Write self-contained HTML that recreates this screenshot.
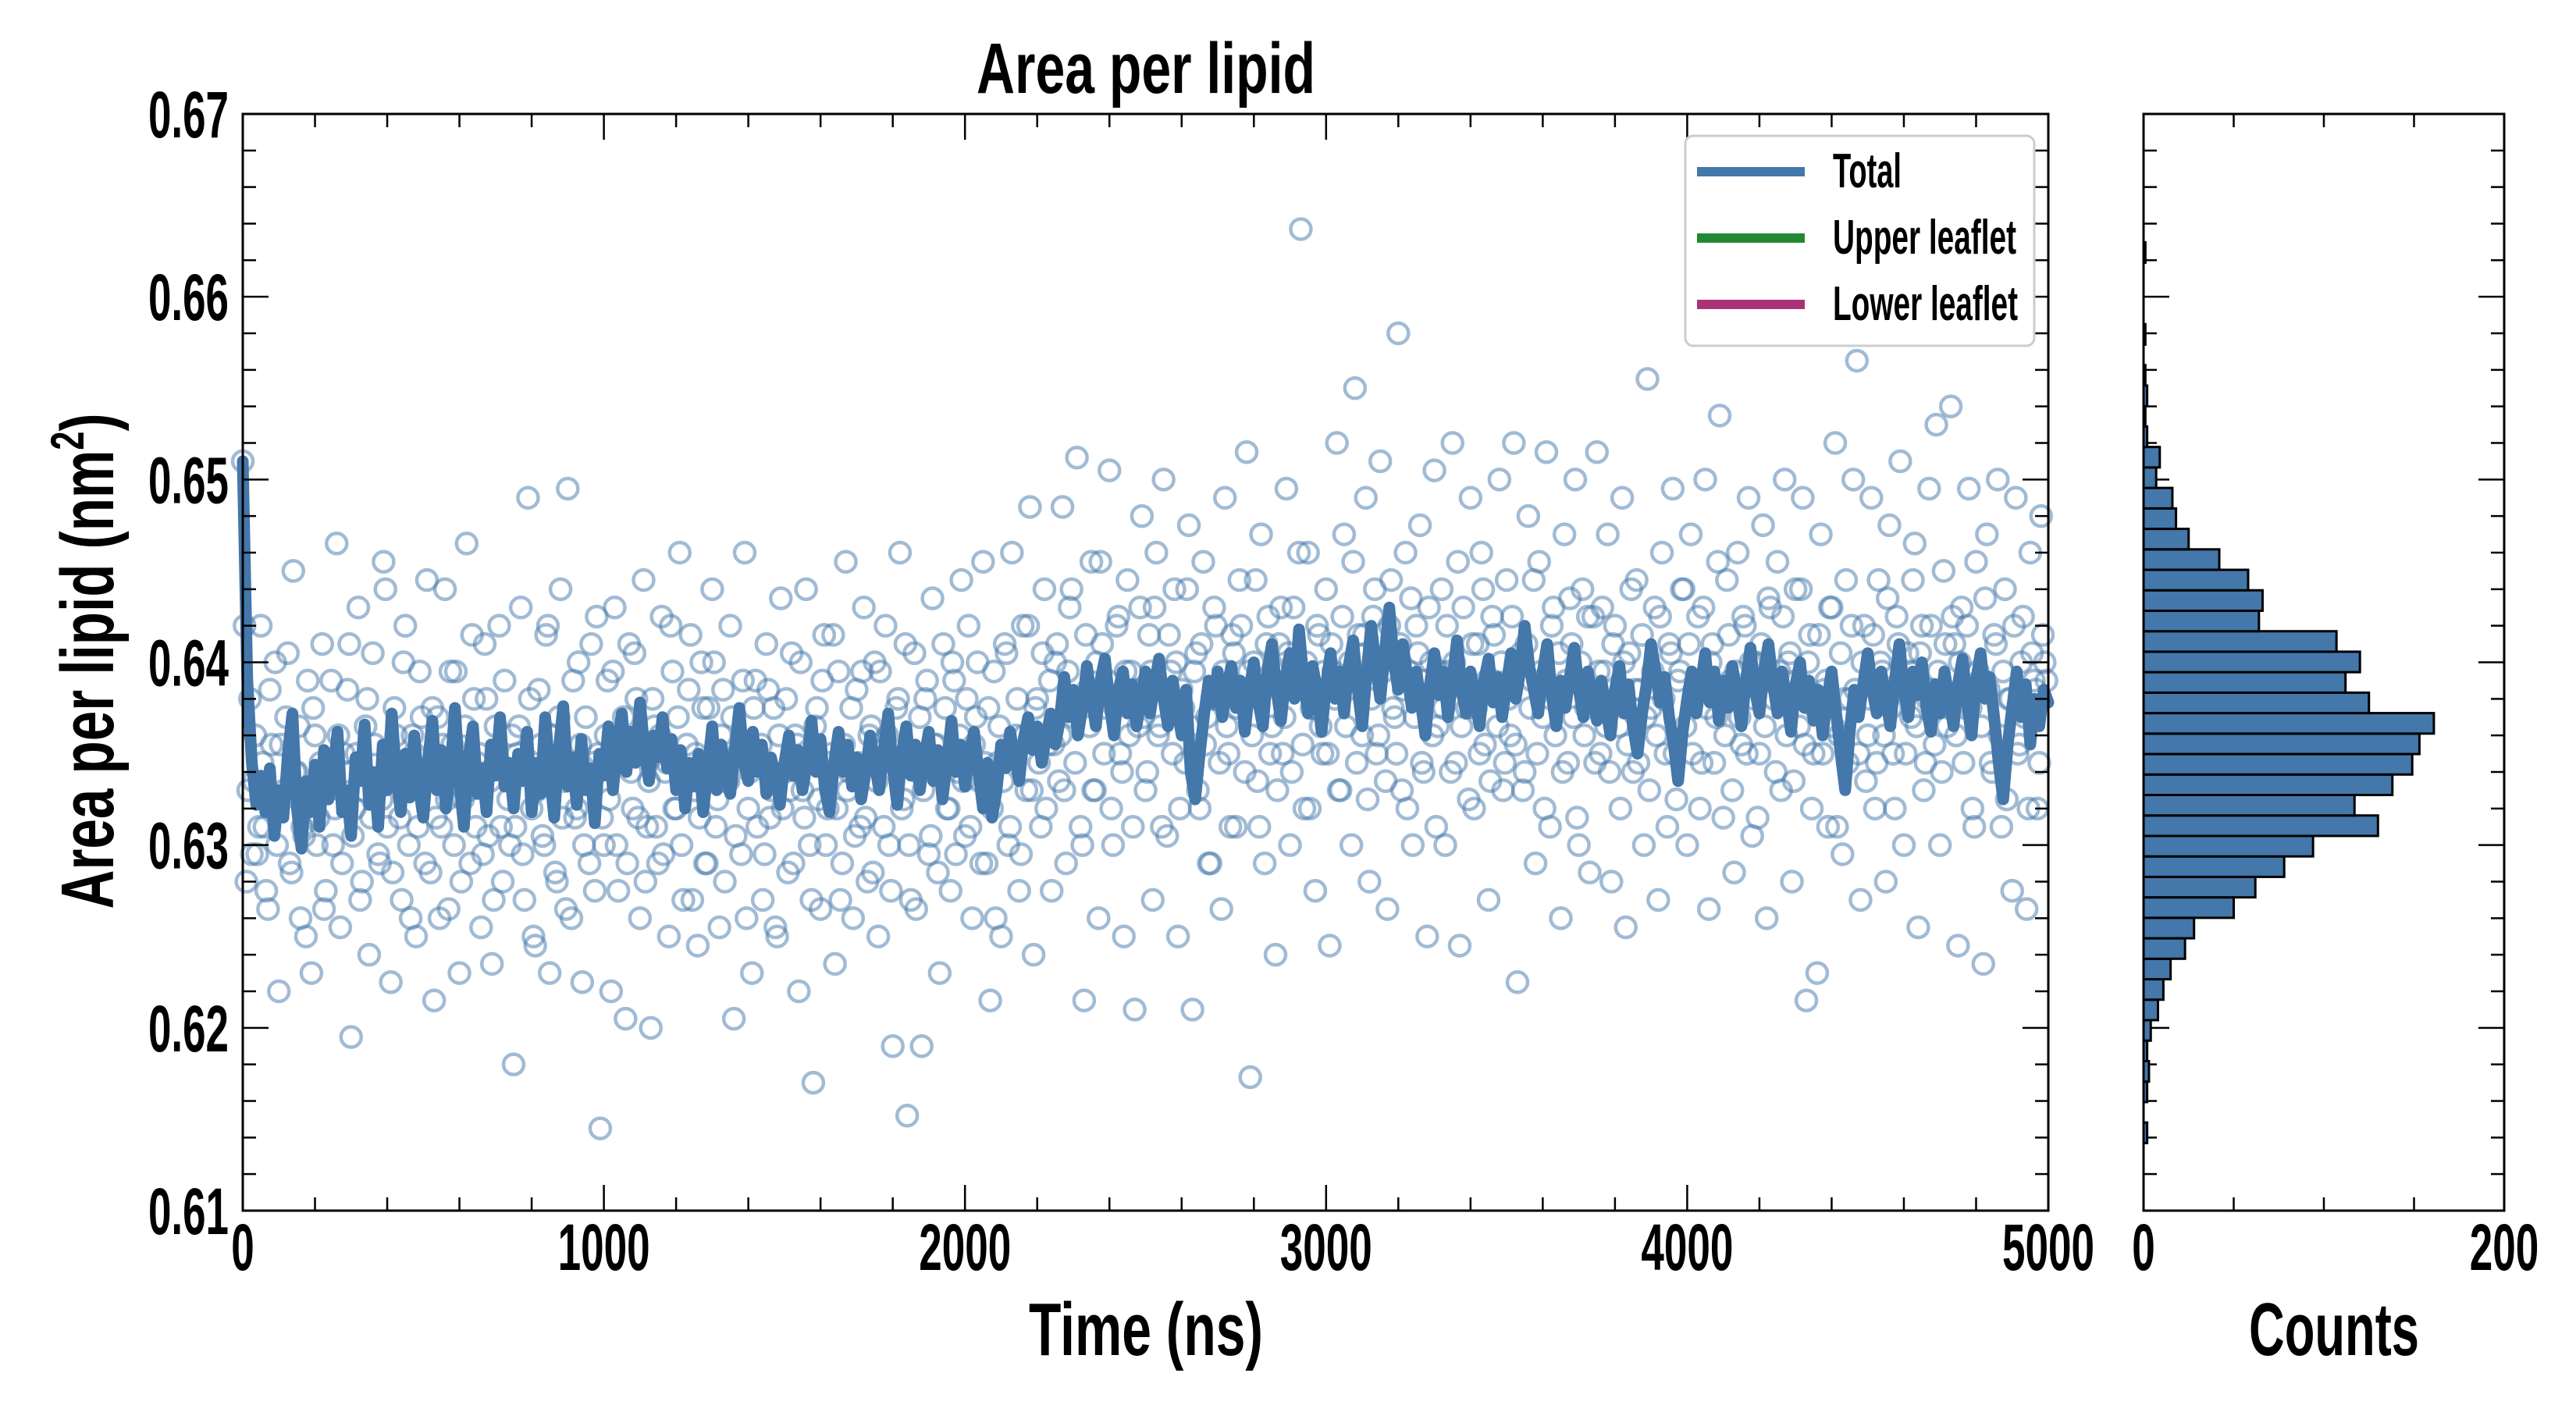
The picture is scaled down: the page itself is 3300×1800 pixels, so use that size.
<!DOCTYPE html>
<html><head><meta charset="utf-8"><style>
html,body{margin:0;padding:0;background:#fff;}
svg{display:block;}
text{font-family:"Liberation Sans",sans-serif;font-weight:bold;fill:#000;}
</style></head><body>
<svg id="chart" xmlns="http://www.w3.org/2000/svg" width="3300" height="1800" viewBox="0 0 3300 1800">
<rect width="3300" height="1800" fill="#fff"/>
<text x="1468" y="119" font-size="92" text-anchor="middle" textLength="434" lengthAdjust="spacingAndGlyphs">Area per lipid</text>
<g id="main"></g>
<g id="hist"></g>
<text x="1468" y="1736" font-size="96" text-anchor="middle" textLength="300" lengthAdjust="spacingAndGlyphs">Time (ns)</text>
<text x="2990" y="1736" font-size="96" text-anchor="middle" textLength="218" lengthAdjust="spacingAndGlyphs">Counts</text>
<text transform="translate(145,847) rotate(-90)" x="0" y="0" font-size="96" text-anchor="middle" textLength="635" lengthAdjust="spacingAndGlyphs">Area per lipid (nm<tspan font-size="60" dy="-38">2</tspan><tspan dy="38">)</tspan></text>
<g>
<rect x="2159" y="174" width="447" height="269" rx="10" fill="#fff" stroke="#ccc" stroke-width="3"/>
<line x1="2174" y1="220" x2="2312" y2="220" stroke="#4477AA" stroke-width="12"/>
<text x="2348" y="240" font-size="62" textLength="88" lengthAdjust="spacingAndGlyphs">Total</text>
<line x1="2174" y1="305" x2="2312" y2="305" stroke="#228833" stroke-width="12"/>
<text x="2348" y="325" font-size="62" textLength="235" lengthAdjust="spacingAndGlyphs">Upper leaflet</text>
<line x1="2174" y1="390" x2="2312" y2="390" stroke="#AA3377" stroke-width="12"/>
<text x="2348" y="410" font-size="62" textLength="237" lengthAdjust="spacingAndGlyphs">Lower leaflet</text>
</g>
</svg>
<script>
const yTicks=[0.61,0.62,0.63,0.64,0.65,0.66,0.67];
const yTickLabels=["0.61","0.62","0.63","0.64","0.65","0.66","0.67"];
const xTicks=[0,1000,2000,3000,4000,5000];
const xTickLabels=["0","1000","2000","3000","4000","5000"];
const histTicks=[0,200];
const histTickLabels=["0","200"];
const lineDt=12.5;
const lineAPL=[
.6510,.6390,.6345,.6322,.6338,.6318,.6342,.6305,.6330,.6315,.6350,.6372,.6320,.6298,.6335,.6318,.6344,.6310,.6352,.6325,
.6340,.6362,.6318,.6330,.6305,.6348,.6335,.6366,.6322,.6340,.6310,.6355,.6330,.6372,.6338,.6318,.6350,.6326,.6360,.6332,
.6315,.6345,.6368,.6330,.6352,.6320,.6340,.6375,.6335,.6310,.6348,.6365,.6328,.6342,.6318,.6355,.6338,.6370,.6332,.6345,
.6320,.6350,.6335,.6362,.6318,.6345,.6328,.6370,.6340,.6315,.6352,.6376,.6332,.6348,.6322,.6358,.6330,.6342,.6312,.6350,
.6338,.6365,.6330,.6355,.6372,.6340,.6362,.6345,.6378,.6352,.6335,.6360,.6348,.6370,.6342,.6358,.6330,.6352,.6320,.6345,
.6332,.6350,.6318,.6342,.6365,.6330,.6355,.6340,.6328,.6352,.6375,.6345,.6335,.6362,.6340,.6355,.6328,.6348,.6338,.6322,
.6345,.6360,.6338,.6352,.6330,.6345,.6368,.6340,.6358,.6330,.6318,.6345,.6362,.6340,.6355,.6332,.6348,.6325,.6340,.6360,
.6345,.6330,.6352,.6372,.6342,.6322,.6350,.6365,.6338,.6355,.6330,.6348,.6362,.6335,.6352,.6325,.6345,.6368,.6340,.6355,
.6332,.6350,.6362,.6340,.6320,.6345,.6315,.6330,.6355,.6342,.6362,.6348,.6335,.6358,.6370,.6352,.6365,.6345,.6360,.6372,
.6355,.6368,.6392,.6370,.6385,.6360,.6375,.6398,.6380,.6365,.6390,.6402,.6378,.6360,.6385,.6395,.6372,.6388,.6365,.6380,
.6395,.6372,.6388,.6402,.6380,.6365,.6390,.6375,.6360,.6385,.6340,.6325,.6350,.6372,.6390,.6378,.6395,.6370,.6385,.6398,
.6375,.6390,.6362,.6385,.6400,.6378,.6365,.6395,.6410,.6385,.6368,.6392,.6405,.6380,.6418,.6390,.6372,.6398,.6385,.6362,
.6388,.6405,.6380,.6395,.6372,.6398,.6412,.6385,.6365,.6395,.6420,.6398,.6380,.6405,.6430,.6400,.6385,.6410,.6392,.6375,
.6395,.6378,.6360,.6388,.6405,.6382,.6395,.6370,.6390,.6412,.6385,.6372,.6395,.6380,.6365,.6390,.6402,.6378,.6392,.6370,
.6388,.6405,.6380,.6395,.6420,.6398,.6385,.6372,.6395,.6410,.6382,.6365,.6390,.6375,.6392,.6408,.6385,.6370,.6395,.6380,
.6368,.6390,.6375,.6360,.6385,.6398,.6372,.6388,.6365,.6350,.6372,.6388,.6410,.6395,.6378,.6392,.6370,.6355,.6335,.6362,
.6380,.6395,.6372,.6388,.6405,.6378,.6395,.6368,.6390,.6375,.6398,.6382,.6365,.6390,.6408,.6385,.6372,.6395,.6410,.6388,
.6372,.6395,.6380,.6362,.6388,.6400,.6375,.6390,.6368,.6385,.6360,.6380,.6395,.6372,.6350,.6330,.6362,.6385,.6370,.6388,
.6405,.6385,.6372,.6395,.6380,.6365,.6390,.6410,.6385,.6370,.6395,.6382,.6400,.6375,.6362,.6388,.6372,.6395,.6380,.6365,
.6388,.6402,.6378,.6360,.6390,.6405,.6380,.6392,.6370,.6345,.6325,.6355,.6375,.6395,.6370,.6388,.6355,.6380,.6365,.6385,
.6378];
const scatterDt=10;
const scatterAPL=[
.6510,.6280,.6380,.6335,.6295,.6420,.6310,.6265,.6355,.6400,.6220,.6325,.6370,.6290,.6450,.6340,.6260,.6305,.6390,.6230,.6360,.6315,.6410,.6275,.6345,
.6300,.6465,.6255,.6350,.6385,.6195,.6320,.6430,.6280,.6365,.6240,.6405,.6330,.6290,.6455,.6310,.6225,.6375,.6345,.6270,.6420,.6300,.6360,.6250,.6395,
.6335,.6445,.6285,.6215,.6370,.6310,.6440,.6265,.6355,.6395,.6230,.6325,.6465,.6290,.6380,.6345,.6255,.6410,.6305,.6235,.6365,.6420,.6280,.6340,.6300,
.6180,.6350,.6430,.6270,.6490,.6320,.6245,.6385,.6305,.6415,.6230,.6360,.6280,.6440,.6335,.6495,.6260,.6315,.6400,.6225,.6370,.6290,.6345,.6425,.6145,
.6300,.6390,.6220,.6430,.6275,.6350,.6205,.6410,.6320,.6380,.6260,.6445,.6310,.6200,.6365,.6290,.6425,.6340,.6250,.6395,.6320,.6460,.6270,.6355,.6415,
.6330,.6245,.6400,.6290,.6375,.6440,.6310,.6255,.6385,.6335,.6420,.6205,.6350,.6295,.6460,.6320,.6230,.6390,.6345,.6270,.6410,.6315,.6375,.6250,.6435,
.6340,.6285,.6405,.6360,.6220,.6330,.6440,.6300,.6170,.6375,.6265,.6415,.6320,.6350,.6235,.6395,.6290,.6455,.6340,.6260,.6385,.6310,.6430,.6280,.6365,
.6400,.6250,.6345,.6420,.6300,.6190,.6375,.6460,.6325,.6152,.6270,.6405,.6340,.6190,.6380,.6295,.6435,.6355,.6230,.6410,.6320,.6275,.6390,.6340,.6445,
.6305,.6420,.6260,.6370,.6335,.6455,.6290,.6215,.6395,.6345,.6250,.6410,.6300,.6460,.6360,.6275,.6420,.6330,.6485,.6240,.6380,.6310,.6440,.6355,.6275,
.6400,.6335,.6485,.6290,.6430,.6370,.6512,.6310,.6215,.6385,.6455,.6330,.6260,.6410,.6375,.6505,.6300,.6420,.6350,.6250,.6445,.6395,.6210,.6365,.6480,
.6330,.6415,.6270,.6460,.6365,.6500,.6305,.6395,.6440,.6250,.6385,.6345,.6475,.6210,.6405,.6320,.6455,.6370,.6290,.6430,.6380,.6265,.6490,.6350,.6415,
.6310,.6445,.6380,.6515,.6173,.6400,.6335,.6470,.6290,.6425,.6365,.6240,.6410,.6350,.6495,.6300,.6430,.6385,.6637,.6320,.6460,.6375,.6275,.6415,.6350,
.6440,.6245,.6395,.6520,.6330,.6470,.6385,.6300,.6550,.6415,.6360,.6490,.6280,.6425,.6350,.6510,.6395,.6265,.6445,.6370,.6580,.6330,.6460,.6395,.6300,
.6420,.6475,.6340,.6250,.6400,.6505,.6365,.6440,.6300,.6395,.6520,.6345,.6245,.6430,.6375,.6490,.6320,.6410,.6460,.6355,.6270,.6425,.6385,.6500,.6330,
.6445,.6360,.6520,.6225,.6405,.6340,.6480,.6390,.6290,.6455,.6370,.6515,.6310,.6430,.6385,.6260,.6470,.6345,.6410,.6500,.6300,.6440,.6375,.6285,.6425,
.6515,.6350,.6395,.6470,.6280,.6420,.6365,.6490,.6255,.6405,.6340,.6445,.6385,.6300,.6555,.6375,.6430,.6270,.6460,.6350,.6410,.6495,.6325,.6395,.6440,
.6300,.6470,.6385,.6425,.6345,.6500,.6265,.6410,.6370,.6535,.6315,.6445,.6390,.6285,.6460,.6355,.6420,.6490,.6305,.6400,.6350,.6475,.6260,.6430,.6380,
.6455,.6330,.6500,.6400,.6280,.6440,.6365,.6490,.6215,.6415,.6350,.6230,.6470,.6385,.6310,.6430,.6520,.6360,.6295,.6445,.6380,.6500,.6565,.6270,.6420,
.6360,.6490,.6320,.6445,.6395,.6280,.6475,.6350,.6425,.6510,.6300,.6405,.6370,.6465,.6255,.6420,.6345,.6495,.6385,.6530,.6300,.6450,.6365,.6540,.6410,
.6245,.6430,.6375,.6495,.6320,.6455,.6390,.6235,.6470,.6345,.6415,.6500,.6310,.6440,.6380,.6275,.6490,.6355,.6425,.6265,.6460,.6390,.6320,.6480,.6400];
const scatterAPL2=[
.6420,.6330,.6295,.6360,.6310,.6345,.6275,.6385,.6320,.6300,.6355,.6330,.6405,.6285,.6340,.6365,.6310,.6250,.6330,.6375,.6300,.6345,.6265,.6330,.6390,
.6320,.6360,.6290,.6340,.6410,.6305,.6350,.6270,.6330,.6380,.6315,.6355,.6295,.6325,.6440,.6340,.6285,.6360,.6315,.6400,.6330,.6260,.6350,.6310,.6370,
.6290,.6340,.6375,.6315,.6260,.6355,.6325,.6395,.6300,.6345,.6280,.6365,.6330,.6415,.6310,.6350,.6295,.6380,.6335,.6270,.6345,.6310,.6390,.6325,.6360,
.6310,.6365,.6295,.6340,.6380,.6250,.6330,.6355,.6300,.6420,.6340,.6285,.6370,.6315,.6265,.6345,.6390,.6320,.6355,.6300,.6335,.6410,.6275,.6350,.6315,
.6360,.6325,.6395,.6300,.6345,.6370,.6290,.6340,.6405,.6315,.6355,.6280,.6335,.6380,.6310,.6360,.6295,.6345,.6420,.6320,.6370,.6300,.6340,.6385,.6270,
.6350,.6315,.6375,.6290,.6345,.6400,.6325,.6360,.6280,.6335,.6370,.6305,.6350,.6390,.6260,.6340,.6375,.6310,.6355,.6295,.6385,.6330,.6255,.6360,.6320,
.6380,.6330,.6290,.6355,.6400,.6315,.6345,.6270,.6365,.6325,.6390,.6300,.6345,.6415,.6320,.6270,.6355,.6330,.6375,.6305,.6345,.6395,.6315,.6360,.6285,
.6335,.6395,.6310,.6360,.6275,.6345,.6380,.6320,.6410,.6300,.6350,.6265,.6370,.6330,.6390,.6305,.6355,.6285,.6340,.6375,.6320,.6400,.6295,.6360,.6335,
.6380,.6310,.6355,.6400,.6290,.6345,.6375,.6320,.6260,.6365,.6335,.6405,.6310,.6350,.6380,.6295,.6360,.6420,.6330,.6375,.6345,.6405,.6320,.6390,.6355,
.6410,.6360,.6330,.6395,.6440,.6345,.6380,.6300,.6415,.6365,.6330,.6400,.6455,.6350,.6390,.6320,.6375,.6425,.6340,.6395,.6360,.6310,.6385,.6430,.6370,
.6340,.6395,.6430,.6360,.6310,.6385,.6415,.6350,.6400,.6320,.6375,.6440,.6365,.6395,.6330,.6410,.6355,.6290,.6380,.6420,.6345,.6395,.6365,.6310,.6405,
.6375,.6420,.6340,.6395,.6360,.6445,.6310,.6385,.6410,.6350,.6395,.6330,.6430,.6370,.6405,.6340,.6385,.6460,.6355,.6400,.6320,.6375,.6420,.6365,.6395,
.6350,.6410,.6380,.6330,.6425,.6365,.6400,.6455,.6345,.6390,.6415,.6325,.6380,.6440,.6360,.6400,.6335,.6420,.6375,.6350,.6410,.6385,.6320,.6435,.6370,
.6405,.6345,.6390,.6430,.6360,.6310,.6395,.6375,.6420,.6340,.6400,.6455,.6365,.6385,.6325,.6410,.6375,.6350,.6440,.6390,.6335,.6415,.6365,.6400,.6345,
.6380,.6425,.6355,.6400,.6330,.6410,.6375,.6445,.6350,.6395,.6320,.6385,.6420,.6360,.6405,.6340,.6390,.6435,.6370,.6315,.6400,.6360,.6425,.6380,.6345,
.6395,.6430,.6365,.6340,.6410,.6380,.6320,.6400,.6355,.6440,.6385,.6345,.6415,.6370,.6330,.6395,.6360,.6425,.6380,.6310,.6405,.6350,.6390,.6440,.6365,
.6410,.6350,.6390,.6320,.6430,.6375,.6400,.6345,.6455,.6385,.6360,.6415,.6330,.6395,.6370,.6425,.6350,.6400,.6380,.6315,.6410,.6365,.6435,.6390,.6340,
.6395,.6425,.6360,.6405,.6335,.6380,.6440,.6355,.6400,.6320,.6375,.6415,.6350,.6390,.6430,.6365,.6310,.6405,.6380,.6345,.6420,.6385,.6350,.6400,.6335,
.6380,.6415,.6345,.6400,.6360,.6435,.6375,.6320,.6410,.6385,.6350,.6395,.6445,.6365,.6405,.6330,.6380,.6420,.6355,.6395,.6340,.6410,.6375,.6425,.6360,
.6400,.6345,.6420,.6375,.6310,.6395,.6365,.6435,.6385,.6340,.6410,.6360,.6395,.6325,.6380,.6420,.6350,.6400,.6370,.6320,.6405,.6385,.6345,.6415,.6390];
const binStart=0.6137;
const binWidth=0.00112;
const histCounts=[2,0,2,3,2,4,8,11,15,23,28,50,62,78,94,130,117,138,149,153,161,125,112,120,107,64,66,58,42,25,18,16,7,9,2,1,2,1,0,1,0,0,0,1];

const NS='http://www.w3.org/2000/svg';
const L=311,R=2624,T=146,B=1551,HL=2746,HR=3208;
const yMin=0.61,yMax=0.67;
function ys(v){return T+(yMax-v)/(yMax-yMin)*(B-T);}
function xs(t){return L+t/5000*(R-L);}
function hx(c){return HL+c/200*(HR-HL);}
function mk(tag,attrs,parent){const e=document.createElementNS(NS,tag);for(const k in attrs)e.setAttribute(k,attrs[k]);parent.appendChild(e);return e;}
const main=document.getElementById('main');
const hist=document.getElementById('hist');

// scatter
const sg=mk('g',{},main);


function drawPt(t,v){
  const c=mk('circle',{cx:xs(t),cy:ys(v),r:13,fill:'none',stroke:'#4477AA','stroke-width':4.5,'stroke-opacity':0.5},sg);
  
  
}
scatterAPL.forEach((v,i)=>drawPt(i*scatterDt,v));
scatterAPL2.forEach((v,i)=>drawPt(5+i*scatterDt,v));
// line
const pts=lineAPL.map((v,i)=>xs(Math.min(5000,i*lineDt)).toFixed(1)+','+ys(v).toFixed(1)).join(' ');
const pl=mk('polyline',{points:pts,fill:'none',stroke:'#4477AA','stroke-width':15,'stroke-linejoin':'round','stroke-linecap':'round'},main);



// main frame + ticks
const fr=mk('rect',{x:L,y:T,width:R-L,height:B-T,fill:'none',stroke:'#000','stroke-width':3},main);


for(let t=0;t<=5000;t+=200){
  const len=(t%1000===0)?33:17;const x=xs(t);
  mk('line',{x1:x,y1:B,x2:x,y2:B-len,stroke:'#000','stroke-width':2.5},main);
  mk('line',{x1:x,y1:T,x2:x,y2:T+len,stroke:'#000','stroke-width':2.5},main);
}
for(let k=0;k<=30;k++){
  const v=yMin+k*0.002;const len=(k%5===0)?33:17;const y=ys(v);
  mk('line',{x1:L,y1:y,x2:L+len,y2:y,stroke:'#000','stroke-width':2.5},main);
  mk('line',{x1:R,y1:y,x2:R-len,y2:y,stroke:'#000','stroke-width':2.5},main);
  mk('line',{x1:HL,y1:y,x2:HL+len,y2:y,stroke:'#000','stroke-width':2.5},hist);
  mk('line',{x1:HR,y1:y,x2:HR-len,y2:y,stroke:'#000','stroke-width':2.5},hist);
}
yTicks.forEach((v,i)=>{
  const t=mk('text',{x:293,y:ys(v)+30,'font-size':84,'text-anchor':'end',textLength:103,lengthAdjust:'spacingAndGlyphs'},main);
  t.textContent=yTickLabels[i];
  
  
});
xTicks.forEach((v,i)=>{
  const s=xTickLabels[i];
  const t=mk('text',{x:xs(v),y:1627,'font-size':84,'text-anchor':'middle',textLength:s.length*29.5,lengthAdjust:'spacingAndGlyphs'},main);
  t.textContent=s;
  
  
});
// histogram bars
histCounts.forEach((c,i)=>{
  if(c<=0)return;
  const y0=ys(binStart+(i+1)*binWidth),y1=ys(binStart+i*binWidth);
  const b=mk('rect',{x:HL,y:y0,width:hx(c)-HL,height:y1-y0,fill:'#4477AA',stroke:'#000','stroke-width':3},hist);
  
  
});
const hf=mk('rect',{x:HL,y:T,width:HR-HL,height:B-T,fill:'none',stroke:'#000','stroke-width':3},hist);


for(let c=50;c<200;c+=50){
  mk('line',{x1:hx(c),y1:B,x2:hx(c),y2:B-17,stroke:'#000','stroke-width':2.5},hist);
  mk('line',{x1:hx(c),y1:T,x2:hx(c),y2:T+17,stroke:'#000','stroke-width':2.5},hist);
}
histTicks.forEach((v,i)=>{
  const s=histTickLabels[i];
  const t=mk('text',{x:hx(v),y:1627,'font-size':84,'text-anchor':'middle',textLength:s.length*29.5,lengthAdjust:'spacingAndGlyphs'},hist);
  t.textContent=s;
  
  
});
</script>
</body></html>
